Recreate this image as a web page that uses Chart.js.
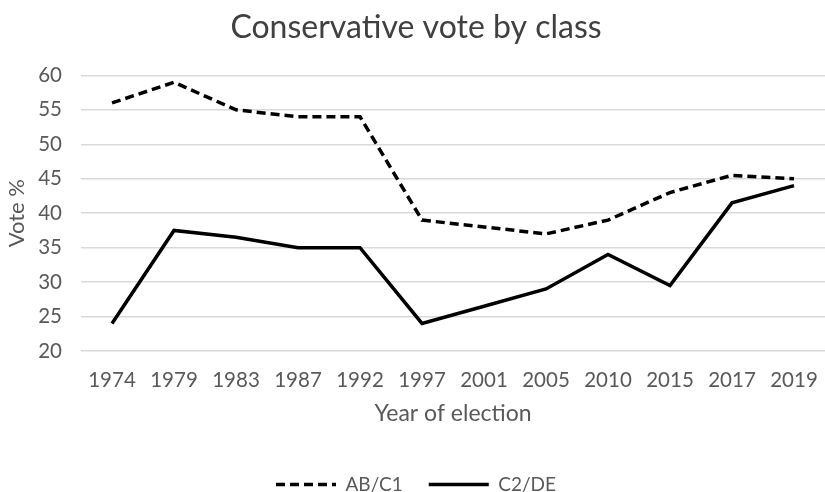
<!DOCTYPE html>
<html>
<head>
<meta charset="utf-8">
<script src="https://cdn.jsdelivr.net/npm/chart.js@4/dist/chart.umd.min.js"></script>
<style>
  html, body { margin: 0; padding: 0; background: #fff; }
  #wrap { width: 825px; height: 492px; }
</style>
</head>
<body>
<div id="wrap"><canvas id="c" width="825" height="492"></canvas></div>
<script>
const years = ["1974","1979","1983","1987","1992","1997","2001","2005","2010","2015","2017","2019"];
const abc1 = [56, 59, 55, 54, 54, 39, 38, 37, 39, 43, 45.5, 45];
const c2de = [24, 37.5, 36.5, 35, 35, 24, 26.5, 29, 34, 29.5, 41.5, 44];
const yTicks = [20, 25, 30, 35, 40, 45, 50, 55, 60];

const FONT = "Lato";
const TXT = "#595959";

const shiftLegend = {
  id: 'shiftLegend',
  afterLayout(chart) {
    const lg = chart.legend;
    if (lg) { lg.top += 12; lg.bottom += 12; }
  }
};

new Chart(document.getElementById('c'), {
  type: 'line',
  data: {
    labels: years,
    datasets: [
      { label: 'AB/C1', data: abc1, borderColor: '#000', backgroundColor: '#000',
        borderWidth: 3.5, borderDash: [9, 5], pointRadius: 0, pointStyle: 'line', tension: 0 },
      { label: 'C2/DE', data: c2de, borderColor: '#000', backgroundColor: '#000',
        borderWidth: 3.5, pointRadius: 0, pointStyle: 'line', tension: 0 }
    ]
  },
  plugins: [shiftLegend],
  options: {
    responsive: false,
    animation: false,
    layout: { padding: { left: 0, right: -7, top: 0, bottom: 0 } },
    plugins: {
      title: { display: true, text: 'Conservative vote by class', color: '#404040',
        font: { family: FONT, size: 32, weight: 'normal' }, padding: { top: 8, bottom: 29 } },
      legend: { position: 'bottom',
        labels: { usePointStyle: true, pointStyleWidth: 60, color: TXT,
          font: { family: FONT, size: 19 }, padding: 26,
          generateLabels: (chart) => {
            const items = Chart.defaults.plugins.legend.labels.generateLabels(chart);
            return items.map((it) => {
              const ds = chart.data.datasets[it.datasetIndex];
              it.lineDash = ds.borderDash || [];
              it.lineWidth = ds.borderWidth;
              it.strokeStyle = ds.borderColor;
              it.pointStyle = 'line';
              return it;
            });
          } } },
      tooltip: { enabled: false }
    },
    scales: {
      x: {
        offset: true,
        afterFit: (s) => { s.height = 86; s.paddingLeft = 0; s.paddingRight = 0; },
        grid: { display: false, drawTicks: false },
        border: { display: false },
        ticks: { color: TXT, font: { family: FONT, size: 20.5 }, padding: 17, maxRotation: 0 },
        title: { display: true, text: 'Year of election', color: TXT,
          font: { family: FONT, size: 23 }, padding: { top: 4, bottom: 10 } }
      },
      y: {
        min: 20, max: 60,
        afterBuildTicks: (s) => { s.ticks = yTicks.map(v => ({ value: v })); },
        afterFit: (s) => { s.width = 81; },
        grid: { color: '#d9d9d9', lineWidth: 1.5, drawTicks: false },
        border: { display: false },
        ticks: { color: TXT, font: { family: FONT, size: 20.5 }, padding: 19 },
        title: { display: true, text: 'Vote %', color: TXT,
          font: { family: FONT, size: 22 }, padding: { top: 4, bottom: 0 } }
      }
    }
  }
});
</script>
</body>
</html>
